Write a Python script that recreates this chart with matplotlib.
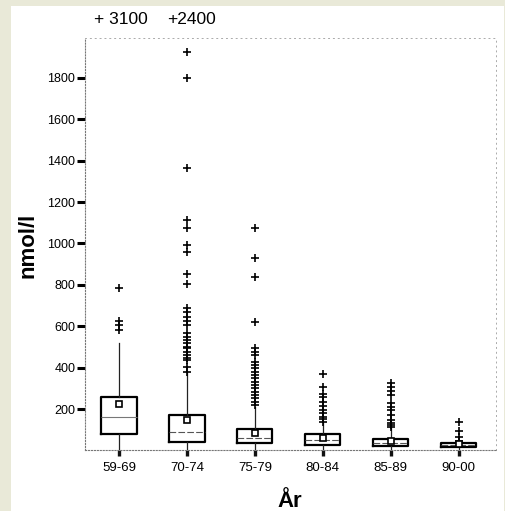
import matplotlib
matplotlib.use("Agg")
import matplotlib.pyplot as plt
from matplotlib.patches import Rectangle

plt.rcParams['font.family'] = ['Liberation Sans', 'DejaVu Sans']

categories = ["59-69", "70-74", "75-79", "80-84", "85-89", "90-00"]
q1 = [79, 42, 34, 28, 22, 15]
median = [161, 87, 58, 50, 38, 26]
q3 = [257, 173, 103, 78, 56, 36]
mean = [224, 147, 86, 58, 44, 29]
whis_low = [3, 3, 3, 3, 3, 3]
whis_high = [518, 374, 210, 132, 108, 42]
fliers = [
    [783, 627, 606, 582],
    [1926, 1800, 1366, 1113, 1073, 993, 957, 853, 802, 687, 670, 646, 625, 606,
     566, 550, 534, 518, 501, 493, 477, 461, 445, 437, 404, 380],
    [1073, 928, 837, 622, 493, 477, 461, 429, 413, 397, 380, 364, 348, 332, 316,
     300, 284, 268, 252, 235, 219],
    [369, 308, 271, 260, 235, 214, 195, 179, 163, 150, 139],
    [324, 308, 289, 268, 228, 211, 195, 171, 147, 134, 123, 115],
    [139, 94, 66, 47],
]
offscale_labels = ["+ 3100", "+2400"]
offscale_x = [1.03, 2.07]
yticks = [200, 400, 600, 800, 1000, 1200, 1400, 1600, 1800]

W, H = 506, 511
fig = plt.figure(figsize=(W / 100, H / 100), dpi=100)
fig.patch.set_facecolor('#e9e9d8')
fig.patches.append(Rectangle((11 / W, 0), (504 - 11) / W, (H - 6) / H,
                             transform=fig.transFigure, facecolor='white',
                             edgecolor='none', zorder=-10))

ax = fig.add_axes([85 / W, (H - 450.4) / H, (496 - 85) / W, (450.4 - 38) / H])
ax.set_facecolor('none')

stats = []
for i, c in enumerate(categories):
    stats.append(dict(label=c, q1=q1[i], med=median[i], q3=q3[i], mean=mean[i],
                      whislo=whis_low[i], whishi=whis_high[i], fliers=fliers[i]))

res = ax.bxp(stats, positions=range(1, len(categories) + 1), widths=0.52,
             showmeans=True, showcaps=False,
             boxprops=dict(color='black', linewidth=1.6),
             whiskerprops=dict(color='#222222', linewidth=0.9),
             medianprops=dict(color='#555555', linewidth=0.8, linestyle=(0, (6, 2))),
             meanprops=dict(marker='s', markerfacecolor='white', markeredgecolor='black',
                            markersize=5, markeredgewidth=1.2),
             flierprops=dict(marker='+', markeredgecolor='black', markersize=6,
                             markeredgewidth=1.2))
res['medians'][0].set_linestyle('-')
res['medians'][0].set_color('#777777')

ax.set_xlim(0.5, 6.55)
ax.set_ylim(0, 1993)
ax.set_yticks(yticks)
ax.set_yticklabels([str(v) for v in yticks], fontsize=9)
ax.set_xticks(range(1, len(categories) + 1))
ax.set_xticklabels(categories, fontsize=9.5)
ax.tick_params(axis='y', direction='out', length=5.5, width=2.2, pad=1.5, color='black')
ax.tick_params(axis='x', direction='out', length=4.5, width=2.4, pad=4, color='#111111')

for s in ['left', 'bottom']:
    ax.spines[s].set_linestyle(':')
    ax.spines[s].set_color('#777777')
    ax.spines[s].set_linewidth(0.8)
for s in ['top', 'right']:
    ax.spines[s].set_linestyle((0, (1, 4)))
    ax.spines[s].set_color('#aaaaaa')
    ax.spines[s].set_linewidth(0.7)

for lab, xp in zip(offscale_labels, offscale_x):
    ax.text(xp, 1.044, lab, transform=ax.get_xaxis_transform(), ha='center',
            va='center', fontsize=12.5)

fig.text(28 / W, 1 - 245 / H, "nmol/l", rotation=90, ha='center', va='center',
         fontsize=16, fontweight='bold')
fig.text(290 / W, 1 - 501 / H, "År", ha='center', va='center',
         fontsize=16, fontweight='bold')

fig.savefig("out.png", dpi=100, facecolor=fig.get_facecolor())
